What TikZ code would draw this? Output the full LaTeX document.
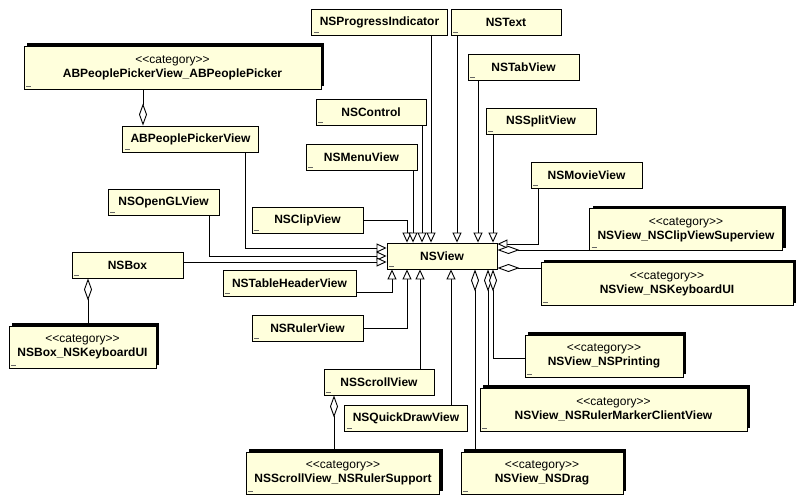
\documentclass[tikz,border=0pt]{standalone}
\usepackage{fontspec}
\setmainfont{Liberation Sans}
\usetikzlibrary{arrows.meta,shadows}
\definecolor{boxfill}{RGB}{255,255,220}
\newcommand{\stereo}{<{}<category>{}>}

\begin{document}
\begin{tikzpicture}[x=1pt, y=-1pt,
        classbox/.style={draw=black, line width=0.9pt, fill=boxfill, minimum height=26pt, inner xsep=8pt, inner ysep=2pt,
            font=\fontsize{12}{14}\selectfont\bfseries,
            path picture={\draw[black!60, line width=0.6pt] ([xshift=2pt,yshift=3pt]path picture bounding box.south west) -- ++(5pt,0pt);}},
        catbox/.style={classbox, minimum height=43pt, align=center, font=\fontsize{12}{14}\selectfont,
            drop shadow={shadow xshift=3pt, shadow yshift=3pt, fill=black, opacity=1}},
        inherit/.style={draw=black, line width=0.9pt, -{Triangle[open, length=10pt, width=9pt, fill=white]}},
        aggregate/.style={draw=black, line width=0.9pt, -{Diamond[open, length=22pt, width=8pt, fill=white]}}]
                \useasboundingbox (0,0) rectangle (802,503);
                \node[classbox, minimum width=133pt] (progress) at (379.5,22) {NSProgressIndicator};
                \node[classbox, minimum width=110pt] (text) at (506,22) {NSText};
                \node[catbox, minimum width=297pt] (abcat) at (172.5,67.5) {\stereo\\\textbf{ABPeoplePickerView\_ABPeoplePicker}};
                \node[classbox, minimum width=111pt] (tab) at (523.5,67) {NSTabView};
                \node[classbox, minimum width=110pt] (control) at (371,112) {NSControl};
                \node[classbox, minimum width=110pt] (split) at (541,121) {NSSplitView};
                \node[classbox, minimum width=135pt] (abppv) at (190.5,139) {ABPeoplePickerView};
                \node[classbox, minimum width=111pt] (menu) at (361.5,157) {NSMenuView};
                \node[classbox, minimum width=111pt] (movie) at (586.5,175) {NSMovieView};
                \node[classbox, minimum width=111pt] (opengl) at (163.5,202) {NSOpenGLView};
                \node[classbox, minimum width=111pt] (clip) at (307.5,220) {NSClipView};
                \node[catbox, minimum width=190pt, minimum height=42pt] (clipsup) at (686,229.5) {\stereo\\\textbf{NSView\_NSClipViewSuperview}};
                \node[classbox, minimum width=110pt] (nsview) at (442,256) {NSView};
                \node[classbox, minimum width=111pt] (box) at (127.5,265) {NSBox};
                \node[classbox, minimum width=133pt] (tablehdr) at (289.5,283) {NSTableHeaderView};
                \node[catbox, minimum width=252pt] (kbd) at (667,284) {\stereo\\\textbf{NSView\_NSKeyboardUI}};
                \node[classbox, minimum width=111pt] (ruler) at (307.5,328) {NSRulerView};
                \node[catbox, minimum width=147pt, minimum height=42pt] (boxcat) at (82.5,347) {\stereo\\\textbf{NSBox\_NSKeyboardUI}};
                \node[catbox, minimum width=158pt, minimum height=42pt] (printing) at (604,356) {\stereo\\\textbf{NSView\_NSPrinting}};
                \node[classbox, minimum width=110pt] (scroll) at (379,382) {NSScrollView};
                \node[catbox, minimum width=267pt] (marker) at (613.5,409.5) {\stereo\\\textbf{NSView\_NSRulerMarkerClientView}};
                \node[classbox, minimum width=122pt] (quickdraw) at (406,418) {NSQuickDrawView};
                \node[catbox, minimum width=188pt, minimum height=42pt] (scrollcat) at (343,473) {\stereo\\\textbf{NSScrollView\_NSRulerSupport}};
                \node[catbox, minimum width=162pt, minimum height=42pt] (drag) at (542,473) {\stereo\\\textbf{NSView\_NSDrag}};

                \draw[inherit] ([xshift=54.5pt]abppv.south) |- ([yshift=8pt]nsview.west);
                \draw[inherit] ([xshift=45.5pt]opengl.south) |- (nsview.west);
                \draw[inherit] ([yshift=-6pt]nsview.west -| box.east) -- ([yshift=-6pt]nsview.west);
                \draw[inherit] (clip.east) -| ([xshift=-35pt]nsview.north);
                \draw[inherit] ([xshift=-29pt]nsview.north |- menu.south) -- ([xshift=-29pt]nsview.north);
                \draw[inherit] ([xshift=-20pt]nsview.north |- control.south) -- ([xshift=-20pt]nsview.north);
                \draw[inherit] ([xshift=-11pt]nsview.north |- progress.south) -- ([xshift=-11pt]nsview.north);
                \draw[inherit] ([xshift=15pt]nsview.north |- text.south) -- ([xshift=15pt]nsview.north);
                \draw[inherit] ([xshift=36pt]nsview.north |- tab.south) -- ([xshift=36pt]nsview.north);
                \draw[inherit] ([xshift=51pt]nsview.north |- split.south) -- ([xshift=51pt]nsview.north);
                \draw[inherit] ([xshift=-48.5pt]movie.south) |- ([yshift=12pt]nsview.east);
                \draw[inherit] ([yshift=-9pt]tablehdr.east) -| ([xshift=-50pt]nsview.south);
                \draw[inherit] (ruler.east) -| ([xshift=-35pt]nsview.south);
                \draw[inherit] ([xshift=-22pt]nsview.south |- scroll.north) -- ([xshift=-22pt]nsview.south);
                \draw[inherit] ([xshift=9pt]nsview.south |- quickdraw.north) -- ([xshift=9pt]nsview.south);

                \draw[aggregate] ([yshift=6pt]nsview.east -| clipsup.west) -- ([yshift=6pt]nsview.east);
                \draw[aggregate] ([yshift=-12pt]nsview.east -| kbd.west) -- ([yshift=-12pt]nsview.east);
                \draw[aggregate] ([xshift=33pt]nsview.south |- drag.north) -- ([xshift=33pt]nsview.south);
                \draw[aggregate] ([xshift=46pt]nsview.south |- marker.north) -- ([xshift=46pt]nsview.south);
                \draw[aggregate] ([yshift=-2pt]printing.west) -| ([xshift=51pt]nsview.south);
                \draw[aggregate] ([xshift=-47.5pt]abppv.north |- abcat.south) -- ([xshift=-47.5pt]abppv.north);
                \draw[aggregate] ([xshift=-39.5pt]box.south |- boxcat.north) -- ([xshift=-39.5pt]box.south);
                \draw[aggregate] ([xshift=-45pt]scroll.south |- scrollcat.north) -- ([xshift=-45pt]scroll.south);
            \end{tikzpicture}
\end{document}
